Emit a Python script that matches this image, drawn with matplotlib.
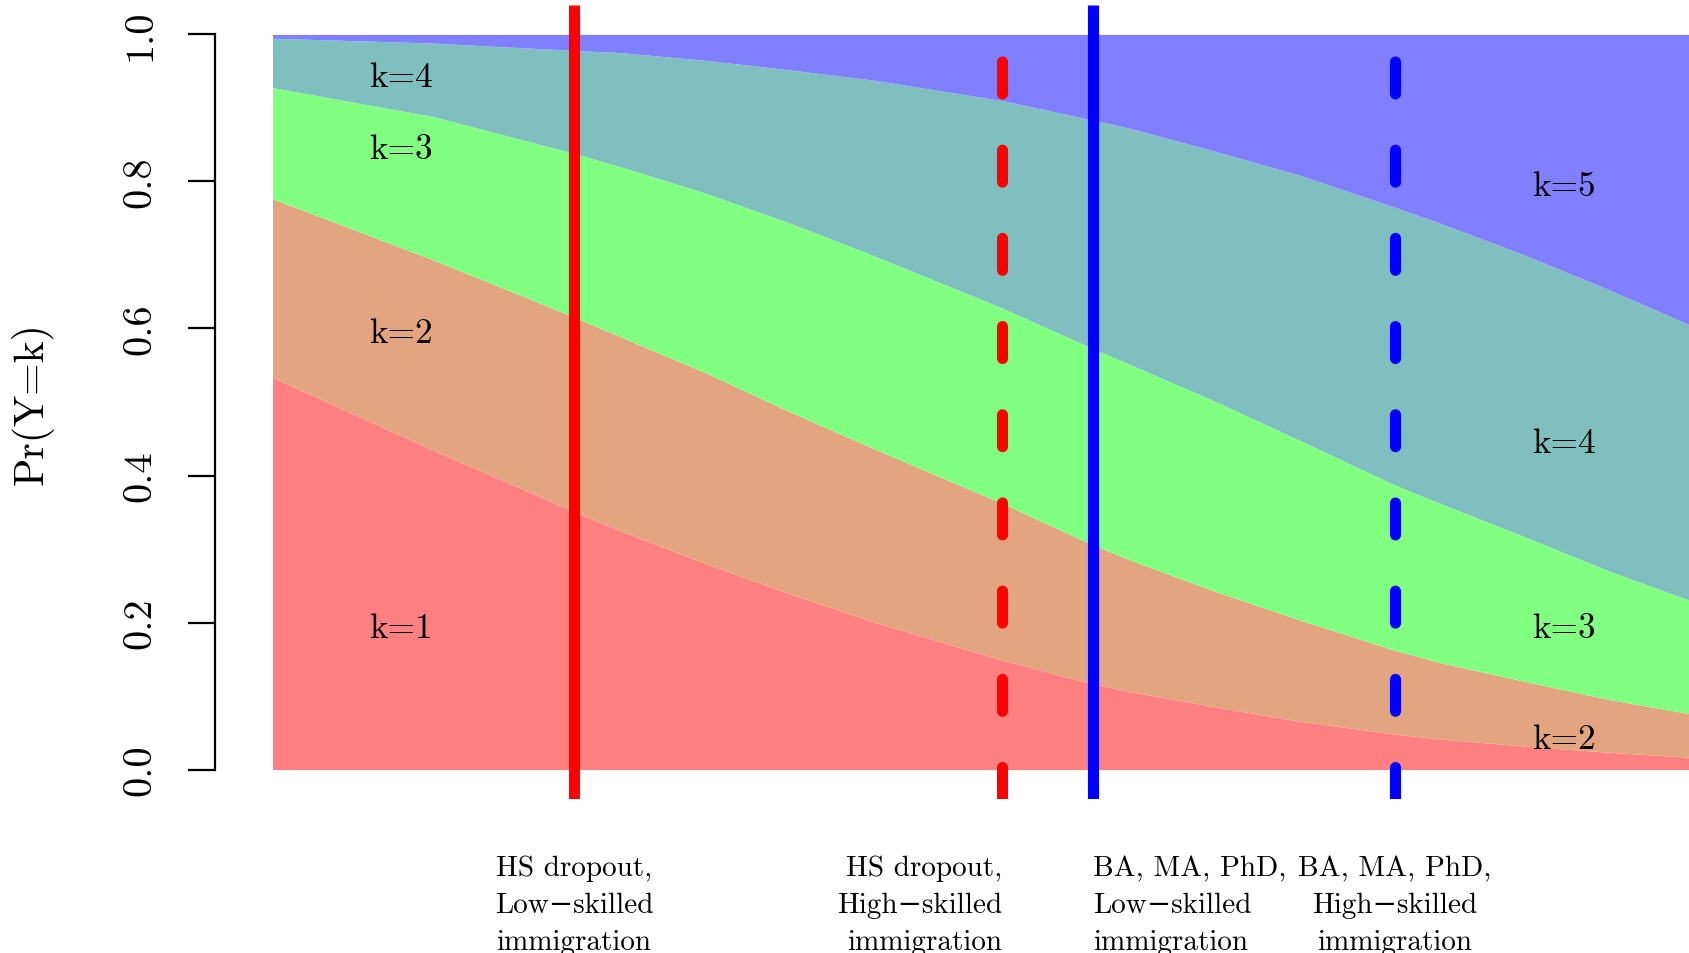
import matplotlib
matplotlib.use("Agg")
import matplotlib.pyplot as plt

plt.rcParams['font.family'] = ['cmr10', 'DejaVu Serif']
plt.rcParams['axes.formatter.use_mathtext'] = True
plt.rcParams['lines.scale_dashes'] = False

# position along the (unlabelled) x scale, 0 = left end of the curves
x_pos = [0.0, 0.1126, 0.2128, 0.2453, 0.3053, 0.3653, 0.4253, 0.5150, 0.5792,
         0.6054, 0.6654, 0.7254, 0.7924, 0.8242, 0.8842, 0.9442, 1.0]

# cumulative Pr(Y<=k)
cum_k1 = [0.5336, 0.4352, 0.3511, 0.3251, 0.2807, 0.2390, 0.2003, 0.1492, 0.1165,
          0.1062, 0.0853, 0.0658, 0.0482, 0.0417, 0.0319, 0.0235, 0.0169]
cum_k2 = [0.7765, 0.6938, 0.6156, 0.5889, 0.5401, 0.4865, 0.4358, 0.3622, 0.3055,
          0.2850, 0.2425, 0.2033, 0.1622, 0.1455, 0.1199, 0.0951, 0.0762]
cum_k3 = [0.9277, 0.8886, 0.8384, 0.8202, 0.7844, 0.7433, 0.6984, 0.6280, 0.5726,
          0.5511, 0.5010, 0.4476, 0.3870, 0.3622, 0.3166, 0.2697, 0.2306]
cum_k4 = [0.9948, 0.9883, 0.9782, 0.9753, 0.9648, 0.9518, 0.9375, 0.9101, 0.8834,
          0.8723, 0.8410, 0.8085, 0.7648, 0.7433, 0.6997, 0.6521, 0.6052]

band_colors = ['#FF8080', '#E3A57F', '#80FF80', '#80BFBF', '#8080FF']

# scenario lines
scen_x = [0.2128, 0.5150, 0.5792, 0.7924]
scen_color = ['#FF0000', '#FF0000', '#0000FF', '#0000FF']
scen_dashed = [False, True, False, True]
scen_labels = ['HS dropout,\nLow\u2212skilled\nimmigration',
               'HS dropout,\nHigh\u2212skilled\nimmigration',
               'BA, MA, PhD,\nLow\u2212skilled\nimmigration',
               'BA, MA, PhD,\nHigh\u2212skilled\nimmigration']
scen_align = ['center', 'right', 'left', 'center']

# band labels
lab_left = ['k=1', 'k=2', 'k=3', 'k=4']
lab_left_y = [0.181, 0.581, 0.832, 0.930]
lab_right = ['k=2', 'k=3', 'k=4', 'k=5']
lab_right_y = [0.030, 0.181, 0.432, 0.781]

fig = plt.figure(figsize=(16.89, 9.54), dpi=100)
ax = fig.add_axes([215 / 1689, 154 / 954, 1 - 215 / 1689, 794 / 954])

zeros = [0.0] * len(x_pos)
ones = [1.0] * len(x_pos)
bounds = [zeros, cum_k1, cum_k2, cum_k3, cum_k4, ones]
for i in range(5):
    ax.fill_between(x_pos, bounds[i], bounds[i + 1], color=band_colors[i], linewidth=0)

for xv, c, d in zip(scen_x, scen_color, scen_dashed):
    if d:
        ax.axvline(xv, ymax=0.985, color=c, lw=8, linestyle=(0, (23, 40.5)),
                   dash_capstyle='round')
    else:
        ax.axvline(xv, color=c, lw=8, solid_capstyle='butt')

for t, yv in zip(lab_left, lab_left_y):
    ax.text(0.0907, yv, t, ha='center', va='baseline', fontsize=25.5)
for t, yv in zip(lab_right, lab_right_y):
    ax.text(0.9119, yv, t, ha='center', va='baseline', fontsize=25.5)

ax.set_xlim(-0.0406, 1.0)
ax.set_ylim(-0.04, 1.04)

for s in ['top', 'right', 'bottom']:
    ax.spines[s].set_visible(False)
ax.spines['left'].set_bounds(0, 1)
ax.spines['left'].set_linewidth(1.6)

ax.set_yticks([0, 0.2, 0.4, 0.6, 0.8, 1.0])
ax.set_yticklabels(['0.0', '0.2', '0.4', '0.6', '0.8', '1.0'], rotation=90, va='center', fontsize=29)
ax.tick_params(axis='y', length=19.5, width=1.6, pad=21)

ax.set_xticks(scen_x)
ax.set_xticklabels(scen_labels, fontsize=21, linespacing=1.53)
ax.tick_params(axis='x', length=0, pad=40)
for lab, al in zip(ax.get_xticklabels(), scen_align):
    lab.set_horizontalalignment(al)
    lab.set_multialignment(al)

fig.text(32 / 1689, (954 - 404) / 954, 'Pr(Y=k)', rotation=90, ha='center', va='center', fontsize=30)

fig.savefig('out.png', dpi=100)
